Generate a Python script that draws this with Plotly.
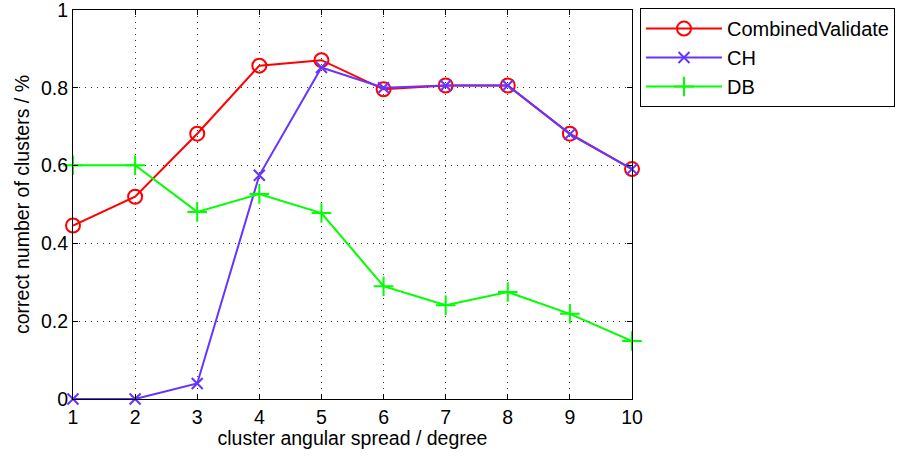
import plotly.graph_objects as go

x_vals = [1, 2, 3, 4, 5, 6, 7, 8, 9, 10]
combined_validate = [0.446, 0.520, 0.682, 0.857, 0.871, 0.796, 0.806, 0.806, 0.682, 0.591]
ch_vals = [0.0, 0.0, 0.040, 0.575, 0.852, 0.800, 0.806, 0.806, 0.681, 0.591]
db_vals = [0.601, 0.601, 0.481, 0.527, 0.478, 0.290, 0.241, 0.275, 0.219, 0.149]

y_ticks = [0, 0.2, 0.4, 0.6, 0.8, 1]
y_ticktext = ["0", "0.2", "0.4", "0.6", "0.8", "1"]

FONT = "Liberation Sans, Arial, Helvetica, sans-serif"
FS = 19.5

fig = go.Figure()
fig.add_trace(go.Scatter(
    x=x_vals, y=combined_validate, name="CombinedValidate", mode="lines+markers",
    line=dict(color="#ff0000", width=2),
    marker=dict(symbol="circle-open", size=14, color="#ff0000", line=dict(width=2, color="#ff0000")),
    cliponaxis=False))
fig.add_trace(go.Scatter(
    x=x_vals, y=ch_vals, name="CH", mode="lines+markers",
    line=dict(color="#6633ff", width=2),
    marker=dict(symbol="x-thin-open", size=11, color="#6633ff", line=dict(width=2, color="#6633ff")),
    cliponaxis=False))
fig.add_trace(go.Scatter(
    x=x_vals, y=db_vals, name="DB", mode="lines+markers",
    line=dict(color="#00ff00", width=2),
    marker=dict(symbol="cross-thin-open", size=14, color="#00ff00", line=dict(width=2, color="#00ff00")),
    cliponaxis=False))

axis_common = dict(
    showline=True, linecolor="black", linewidth=1.2, mirror="ticks",
    ticks="inside", ticklen=5, tickcolor="black", tickwidth=1,
    showgrid=True, gridcolor="#333333", gridwidth=1, griddash="1px,5px",
    zeroline=False, automargin=False, ticklabeloverflow="allow",
    tickfont=dict(family=FONT, size=FS, color="black"),
)

fig.update_xaxes(range=[1, 10], tickvals=x_vals,
                 title=dict(text="cluster angular spread / degree", font=dict(family=FONT, size=FS, color="black"), standoff=4),
                 **axis_common)
fig.update_yaxes(range=[0, 1], tickvals=y_ticks, ticktext=y_ticktext,
                 title=dict(text="correct number of clusters / %", font=dict(family=FONT, size=FS, color="black"), standoff=6),
                 **axis_common)

fig.update_layout(
    width=898, height=457,
    margin=dict(l=73, r=266, t=10, b=58, autoexpand=False),
    paper_bgcolor="white", plot_bgcolor="white",
    font=dict(family=FONT, size=FS, color="black"),
    showlegend=True,
    legend=dict(x=1.0143, y=1.005, xanchor="left", yanchor="top",
                bordercolor="black", borderwidth=1, bgcolor="white",
                font=dict(family=FONT, size=20, color="black"),
                itemwidth=76, tracegroupgap=0),
)

fig.write_html("out.html")
